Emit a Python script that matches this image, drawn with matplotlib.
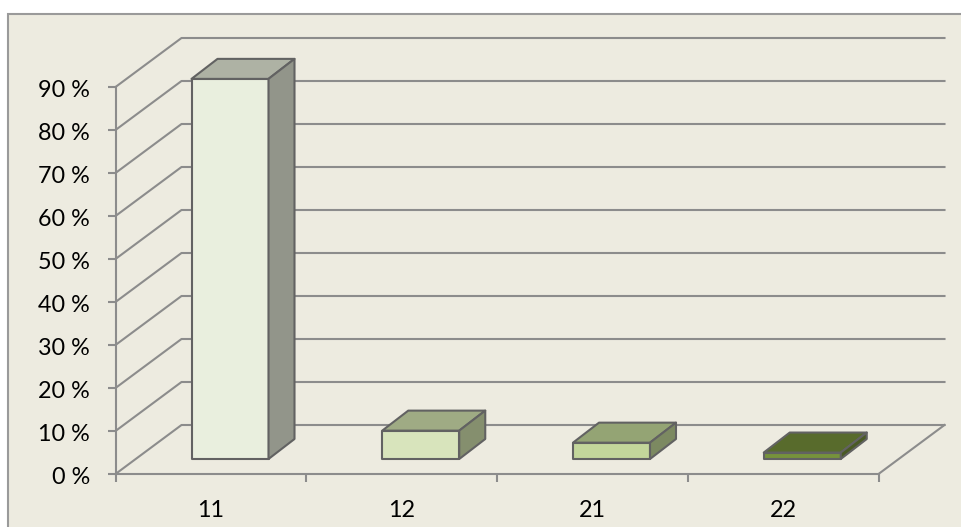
import matplotlib
matplotlib.use("Agg")
import matplotlib.pyplot as plt
from matplotlib.patches import Polygon, Rectangle
from matplotlib.transforms import ScaledTranslation

categories = ["11", "12", "21", "22"]
values = [88.4, 6.6, 3.8, 1.5]
y_ticks = [0, 10, 20, 30, 40, 50, 60, 70, 80, 90]
y_labels = [f"{v} %" for v in y_ticks]
front_colors = ["#E9EFDE", "#D8E4BC", "#C3D69B", "#76923C"]
top_colors = ["#AEB2A4", "#9FAB84", "#94A474", "#586B2C"]
side_colors = ["#92958A", "#858F6E", "#7C8961", "#4A5A25"]

W, H = 961, 527
BG = "#EDEBE0"
GRID = "#8C8C8C"
EDGE = "#626262"

fig = plt.figure(figsize=(W / 100, H / 100), dpi=100, facecolor="white")
fig.add_artist(Rectangle((8 / W, -0.01), 1.0, 1 - 14 / H + 0.01, transform=fig.transFigure,
                         facecolor=BG, edgecolor="#9A9A9A", linewidth=1.5, zorder=-1))

L, R, T, B = 115.5, 878.5, 87.0, 474.0
ax = fig.add_axes([L / W, 1 - B / H, (R - L) / W, (B - T) / H])
ax.patch.set_visible(False)
ax.set_xlim(0, len(categories))
ax.set_ylim(0, 90)

unit_x = (R - L) / len(categories)
unit_y = (B - T) / 90
wall_dx = 66 / unit_x
wall_dy = 49 / unit_y
bar_dx = 26 / unit_x
bar_dy = 20 / unit_y
base_dy = 15 / unit_y
bar_w = 77 / unit_x
bar_start = 76 / unit_x

for s in ("top", "right"):
    ax.spines[s].set_visible(False)
for s in ("left", "bottom"):
    ax.spines[s].set_color(GRID)
    ax.spines[s].set_linewidth(1.5)

ax.set_yticks(y_ticks)
ax.set_yticklabels(y_labels)
ax.set_xticks(range(len(categories) + 1))
ax.set_xticklabels([])
ax.set_xticks([i + 0.5 for i in range(len(categories))], labels=categories, minor=True)
ax.tick_params(axis="x", which="major", direction="out", length=6, width=1.5, color=GRID)
ax.tick_params(axis="x", which="minor", length=0, pad=19, labelsize=16.8)
ax.tick_params(axis="y", direction="out", length=6, width=1.5, color=GRID, pad=12.5, labelsize=16.8)
shift_down = ScaledTranslation(0, -1.5 / 100, fig.dpi_scale_trans)
for lab in ax.get_yticklabels():
    lab.set_transform(lab.get_transform() + shift_down)
for lab in ax.get_xticklabels(minor=True) + ax.get_yticklabels():
    lab.set_family(["Lato", "DejaVu Sans"])
    lab.set_color("black")

n = len(categories)
for v in y_ticks:
    ax.plot([0, wall_dx, n + wall_dx], [v, v + wall_dy, v + wall_dy],
            color=GRID, lw=1.5, clip_on=False, zorder=1)
ax.plot([n, n + wall_dx], [0, wall_dy], color=GRID, lw=1.5, clip_on=False, zorder=1)

for i, v in enumerate(values):
    x0 = i + bar_start
    x1 = x0 + bar_w
    y0 = base_dy
    y1 = y0 + v
    kw = dict(edgecolor=EDGE, linewidth=1.5, joinstyle="round", clip_on=False, zorder=3)
    ax.add_patch(Polygon([(x0, y0), (x1, y0), (x1, y1), (x0, y1)], facecolor=front_colors[i], **kw))
    ax.add_patch(Polygon([(x0, y1), (x1, y1), (x1 + bar_dx, y1 + bar_dy), (x0 + bar_dx, y1 + bar_dy)],
                         facecolor=top_colors[i], **kw))
    ax.add_patch(Polygon([(x1, y0), (x1 + bar_dx, y0 + bar_dy), (x1 + bar_dx, y1 + bar_dy), (x1, y1)],
                         facecolor=side_colors[i], **kw))

fig.savefig("out.png", dpi=100)
